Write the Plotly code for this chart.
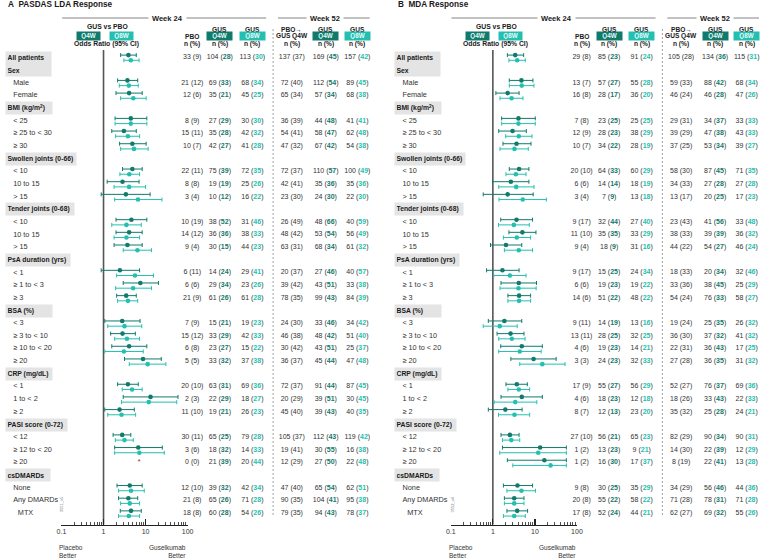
import plotly.graph_objects as go

# ---------------- DATA ----------------
row_labels = ["All patients", "Sex", "Male", "Female", "BMI (kg/m<sup>2</sup>)", "< 25", "≥ 25 to < 30", "≥ 30",
              "Swollen joints (0-66)", "< 10", "10 to 15", "> 15", "Tender joints (0-68)", "< 10", "10 to 15", "> 15",
              "PsA duration (yrs)", "< 1", "≥ 1 to < 3", "≥ 3", "BSA (%)", "< 3", "≥ 3 to < 10", "≥ 10 to < 20", "≥ 20",
              "CRP (mg/dL)", "< 1", "1 to < 2", "≥ 2", "PASI score (0-72)", "< 12", "≥ 12 to < 20", "≥ 20",
              "csDMARDs", "None", "Any DMARDs", "MTX"]
row_kinds = ["all", "group", "sub", "sub", "group", "sub", "sub", "sub",
             "group", "sub", "sub", "sub", "group", "sub", "sub", "sub",
             "group", "sub", "sub", "sub", "group", "sub", "sub", "sub", "sub",
             "group", "sub", "sub", "sub", "group", "sub", "sub", "sub",
             "group", "sub", "sub", "subsub"]

# Panel A: PASDAS LDA – odds ratios (95% CI)
a_q4w_or = [3.9, 3.7, 4.06, 4.45, 3.05, 4.85, 4.85, 2.83, 3.4, 4.6, 4.06, 3.7, 2.45, 7.5, 3.46, 2.78, 2.83, 4.06, 8.7,
            3.8, 13.1, 2.41, 2.78, 6.7, None, 4.2, 3.9, 4.5]
a_q4w_lo = [2.55, 2.16, 1.98, 1.88, 1.57, 2.41, 2.83, 1.22, 0.88, 1.98, 1.98, 1.78, 0.88, 2.94, 2.05, 1.07, 1.48, 1.57,
            3.15, 2.16, 2.94, 1.07, 1.69, 1.84, None, 2.09, 2.28, 2.5]
a_q4w_hi = [6.0, 6.5, 8.3, 10.7, 6.0, 10.3, 8.3, 7.0, 12.8, 10.7, 8.3, 8.3, 7.2, 20.2, 6.0, 7.4, 5.7, 10.7, 23.6,
            6.7, 59, 5.4, 4.45, 25, None, 8.3, 6.5, 7.9]
a_q8w_or = [4.45, 4.0, 5.1, 4.45, 3.8, 5.3, 4.1, 4.06, 6.6, 3.5, 3.5, 6.4, 5.6, 5.05, 3.8, 3.15, 3.6, 3.05, 11.2,
            4.77, 11.9, 2.68, 3.15, 7.1, None, 4.5, 4.2, 4.0]
a_q8w_lo = [3.05, 2.37, 2.55, 1.88, 1.94, 2.55, 2.45, 1.78, 1.84, 1.57, 1.78, 2.94, 2.05, 1.94, 2.16, 1.26, 1.84, 1.07,
            4.1, 2.78, 2.68, 1.26, 1.91, 1.84, None, 2.28, 2.55, 2.28]
a_q8w_hi = [7.0, 6.7, 10.3, 10.7, 7.2, 11.5, 7.2, 10.0, 24.5, 7.9, 7.2, 13.8, 15.4, 13.8, 6.5, 8.1, 7.2, 8.8, 30.4,
            8.3, 55, 5.8, 5.1, 27.8, None, 9.3, 7.2, 7.2]
a_missing_or = [None] * 24 + [7.0] + [None] * 3   # "*" placeholder: not estimable

# Panel A: n (%)
a_pbo24 = [(33, 9), (21, 12), (12, 6), (8, 9), (15, 11), (10, 7), (22, 11), (8, 8), (3, 4), (10, 19), (14, 12), (9, 4),
           (6, 11), (6, 6), (21, 9), (7, 9), (15, 12), (6, 8), (5, 5), (20, 10), (2, 3), (11, 10), (30, 11), (3, 6),
           (0, 0), (12, 10), (21, 8), (18, 8)]
a_q4w24 = [(104, 28), (69, 33), (35, 21), (27, 29), (35, 28), (42, 27), (75, 39), (19, 19), (10, 12), (38, 52),
           (36, 36), (30, 15), (14, 24), (29, 34), (61, 26), (15, 21), (33, 29), (23, 27), (33, 32), (63, 31),
           (22, 29), (19, 21), (65, 25), (18, 32), (21, 39), (39, 32), (65, 26), (60, 28)]
a_q8w24 = [(113, 30), (68, 34), (45, 25), (30, 30), (42, 32), (41, 28), (72, 35), (25, 26), (16, 22), (31, 46),
           (38, 33), (44, 23), (29, 41), (23, 26), (61, 28), (19, 23), (42, 33), (15, 22), (37, 38), (69, 36),
           (18, 27), (26, 23), (79, 28), (14, 33), (20, 44), (42, 34), (71, 28), (54, 26)]
a_pbo52 = [(137, 37), (72, 40), (65, 34), (36, 39), (54, 41), (47, 32), (72, 37), (42, 41), (23, 30), (26, 49),
           (48, 42), (63, 31), (20, 37), (39, 42), (78, 35), (24, 30), (46, 38), (30, 42), (36, 37), (72, 37),
           (20, 29), (45, 40), (105, 37), (19, 41), (12, 29), (47, 40), (90, 35), (79, 35)]
a_q4w52 = [(169, 45), (112, 54), (57, 34), (44, 48), (58, 47), (67, 42), (110, 57), (35, 36), (24, 30), (48, 66),
           (53, 54), (68, 34), (27, 46), (43, 51), (99, 43), (33, 46), (48, 42), (43, 51), (45, 44), (91, 44),
           (39, 51), (39, 43), (112, 43), (30, 55), (27, 50), (65, 54), (104, 41), (94, 43)]
a_q8w52 = [(157, 42), (89, 45), (68, 38), (41, 41), (62, 48), (54, 38), (100, 49), (35, 36), (22, 30), (40, 59),
           (56, 49), (61, 32), (40, 57), (33, 38), (84, 39), (34, 42), (51, 40), (25, 37), (47, 48), (87, 45),
           (30, 45), (40, 35), (119, 42), (16, 38), (22, 48), (62, 51), (95, 38), (78, 37)]

# Panel B: MDA – odds ratios (95% CI)
b_q4w_or = [3.4, 4.78, 2.25, 4.06, 2.94, 3.65, 4.2, 2.68, 2.25, 3.65, 5.04, 2.05, 1.69, 4.14, 4.2, 1.88, 2.64, 4.87,
            9.3, 3.71, 4.87, 1.98, 2.54, 13.3, 16.8, 3.85, 3.22, 3.79]
b_q4w_lo = [2.21, 2.46, 1.18, 1.62, 1.38, 1.74, 2.46, 0.98, 0.59, 1.54, 2.41, 0.88, 0.71, 1.56, 2.28, 0.78, 1.26, 1.54,
            2.68, 2.05, 1.56, 0.78, 1.56, 1.69, 2.21, 1.78, 1.88, 2.16]
b_q4w_hi = [5.4, 8.97, 4.2, 10.2, 6.25, 8.07, 7.2, 7.2, 9.1, 8.8, 10.6, 4.87, 4.2, 10.9, 7.9, 4.87, 5.5, 15, 32,
            6.6, 15, 4.96, 4.2, 56, 56, 8.8, 5.5, 6.7]
b_q8w_or = [3.79, 4.87, 2.79, 4.06, 4.14, 3.27, 3.52, 3.59, 5.13, 3.16, 3.71, 4.14, 2.54, 4.06, 4.2, 1.46, 2.83, 4.36,
            15, 4.14, 3.4, 3.27, 2.74, 12, 23.6, 4.78, 3.22, 3.22]
b_q8w_lo = [2.41, 2.46, 1.48, 1.62, 2.02, 1.48, 2.05, 1.38, 1.4, 1.36, 1.78, 1.88, 1.05, 1.48, 2.28, 0.59, 1.38, 1.38,
            4.36, 2.28, 1.07, 1.36, 1.69, 1.46, 2.98, 2.16, 1.88, 1.78]
b_q8w_hi = [5.9, 9.5, 5.2, 10.2, 8.5, 6.96, 6.15, 9.5, 18.7, 7.36, 7.9, 8.8, 6.15, 10.7, 7.9, 3.79, 5.83, 14.1, 52,
            7.5, 11.1, 7.5, 4.36, 56, 56, 10.3, 5.5, 5.9]

# Panel B: n (%)
b_pbo24 = [(29, 8), (13, 7), (16, 8), (7, 8), (12, 9), (10, 7), (20, 10), (6, 6), (3, 4), (9, 17), (11, 10), (9, 4),
           (9, 17), (6, 6), (14, 6), (9, 11), (13, 11), (4, 6), (3, 3), (17, 9), (4, 6), (8, 7), (27, 10), (1, 2),
           (1, 2), (9, 8), (20, 8), (17, 8)]
b_q4w24 = [(85, 23), (57, 27), (28, 17), (23, 25), (28, 23), (34, 22), (64, 33), (14, 14), (7, 9), (32, 44),
           (35, 35), (18, 9), (15, 25), (19, 23), (51, 22), (14, 19), (28, 25), (19, 23), (24, 23), (55, 27),
           (18, 23), (12, 13), (56, 21), (13, 23), (16, 30), (30, 25), (55, 22), (52, 24)]
b_q8w24 = [(91, 24), (55, 28), (36, 20), (25, 25), (38, 29), (28, 19), (60, 29), (18, 19), (13, 18), (27, 40),
           (33, 29), (31, 16), (24, 34), (19, 22), (48, 22), (13, 16), (32, 25), (14, 21), (32, 33), (56, 29),
           (12, 18), (23, 20), (65, 23), (9, 21), (17, 37), (35, 29), (58, 22), (44, 21)]
b_pbo52 = [(105, 28), (59, 33), (46, 24), (29, 31), (39, 29), (37, 25), (58, 30), (34, 33), (13, 17), (23, 43),
           (38, 33), (44, 22), (18, 33), (33, 36), (54, 24), (19, 24), (36, 30), (22, 31), (27, 28), (52, 27),
           (18, 26), (35, 32), (82, 29), (14, 30), (8, 19), (34, 29), (71, 28), (62, 27)]
b_q4w52 = [(134, 36), (88, 42), (46, 28), (34, 37), (47, 38), (53, 34), (87, 45), (27, 28), (20, 25), (41, 56),
           (39, 39), (54, 27), (20, 34), (38, 45), (76, 33), (25, 35), (37, 32), (36, 43), (36, 35), (76, 37),
           (33, 43), (25, 28), (90, 34), (22, 39), (22, 41), (56, 46), (78, 31), (69, 32)]
b_q8w52 = [(115, 31), (68, 34), (47, 26), (33, 33), (43, 33), (39, 27), (71, 35), (27, 28), (17, 23), (33, 48),
           (36, 32), (46, 24), (32, 46), (25, 29), (58, 27), (26, 32), (41, 32), (17, 25), (31, 32), (69, 36),
           (22, 33), (24, 21), (90, 31), (12, 29), (13, 28), (44, 36), (71, 28), (55, 26)]

axis_tickvals = [0.1, 1, 10, 100]
axis_ticktext = ["0.1", "1", "10", "100"]
minor_tickvals = [m * d for d in (0.1, 1, 10) for m in range(2, 10)]

# ---------------- STYLE / LAYOUT ----------------
W, H = 766, 558
FONT = "Arial, Liberation Sans, sans-serif"
C4 = "#107a6c"
C8 = "#24bfb0"
TXT = "#333333"
DARK = "#1a1a1a"
PITCH = 12.66
Y0 = 57.5
PANEL_DX = 395
COLS_X = [190, 218, 251, 291, 325.5, 357.5]
BOX_W = {"All patients": 45, "Sex": 45, "BMI (kg/m<sup>2</sup>)": 46, "Swollen joints (0-66)": 70,
         "Tender joints (0-68)": 68, "PsA duration (yrs)": 64, "BSA (%)": 46, "CRP (mg/dL)": 46,
         "PASI score (0-72)": 61, "csDMARDs": 44}

slot_y = [Y0 + PITCH * i for i in range(len(row_labels))]
data_idx = [i for i, k in enumerate(row_kinds) if k != "group"]
data_y = [slot_y[i] for i in data_idx]

fig = go.Figure()
annotations = []
shapes = []


def fmt_cells(cells, color):
    out = []
    for n, p in cells:
        if color is None:
            out.append(f"{n} ({p})")
        else:
            out.append(f"{n} (<b><span style='color:{color}'>{p}</span></b>)")
    return out


def build_panel(dx, xa, title, forest, tables, missing=None, code=""):
    # title
    annotations.append(dict(x=dx + 1.5, y=4.5, xref="x", yref="y", xanchor="left", yanchor="middle", showarrow=False,
                            text=f"<b>{title}</b>", font=dict(size=8.2, color=DARK, family=FONT)))
    # week headers
    for (x0, x1, xc, lab) in [(58, 265, 165, "Week 24"), (277, 370, 325, "Week 52")]:
        shapes.append(dict(type="line", xref="x", yref="y", x0=dx + x0, x1=dx + x1, y0=18, y1=18,
                           line=dict(color="#666666", width=0.8)))
        annotations.append(dict(x=dx + xc, y=18, xref="x", yref="y", showarrow=False, text=f"<b>{lab}</b>",
                                bgcolor="white", borderpad=3, font=dict(size=7.5, color=DARK, family=FONT)))
    # dashed separator
    shapes.append(dict(type="line", xref="x", yref="y", x0=dx + 272, x1=dx + 272, y0=29, y1=517,
                       line=dict(color="#8a8a8a", width=0.8, dash="2px,2px")))
    # forest header
    annotations.append(dict(x=dx + 104, y=26.5, xref="x", yref="y", showarrow=False, text="<b>GUS vs PBO</b>",
                            font=dict(size=6.8, color=DARK, family=FONT)))
    for xc, lab, col in [(84.5, "Q4W", C4), (118, "Q8W", C8)]:
        annotations.append(dict(x=dx + xc, y=36, xref="x", yref="y", showarrow=False, text=f"<b>{lab}</b>",
                                bgcolor=col, width=22, height=6.5, borderpad=0.5,
                                font=dict(size=6.3, color="#e8fbf8", family=FONT)))
    annotations.append(dict(x=dx + 103, y=44, xref="x", yref="y", showarrow=False, text="<b>Odds Ratio (95% CI)</b>",
                            font=dict(size=6.8, color=DARK, family=FONT)))
    # table headers
    heads = [("", None, "PBO"), ("GUS", C4, "Q4W"), ("GUS", C8, "Q8W"),
             ("PBO→", None, "GUS Q4W"), ("GUS", C4, "Q4W"), ("GUS", C8, "Q8W")]
    for cx, (top, col, mid) in zip(COLS_X, heads):
        if top:
            annotations.append(dict(x=dx + cx, y=29, xref="x", yref="y", showarrow=False, text=f"<b>{top}</b>",
                                    font=dict(size=6.6, color=DARK, family=FONT)))
        if col:
            annotations.append(dict(x=dx + cx, y=36, xref="x", yref="y", showarrow=False, text=f"<b>{mid}</b>",
                                    bgcolor=col, width=24, height=6.5, borderpad=0.5,
                                    font=dict(size=6.3, color="#e8fbf8", family=FONT)))
        else:
            annotations.append(dict(x=dx + cx, y=36, xref="x", yref="y", showarrow=False, text=f"<b>{mid}</b>",
                                    font=dict(size=6.6, color=DARK, family=FONT)))
        annotations.append(dict(x=dx + cx, y=43.5, xref="x", yref="y", showarrow=False, text="<b>n (%)</b>",
                                font=dict(size=6.6, color=DARK, family=FONT)))
    # row labels
    for lab, kind, y in zip(row_labels, row_kinds, slot_y):
        if kind in ("all", "group"):
            annotations.append(dict(x=dx + 0, y=y, xref="x", yref="y", xanchor="left", yanchor="middle",
                                    showarrow=False, text=f"<b>{lab}</b>", align="left", bgcolor="#e4e4e4",
                                    width=BOX_W[lab] - 3, height=9, borderpad=1.5,
                                    font=dict(size=6.8, color=DARK, family=FONT)))
    sub_x = [dx + (13 if k == "subsub" else 8.3) for k in row_kinds if k in ("sub", "subsub")]
    sub_y = [y for k, y in zip(row_kinds, slot_y) if k in ("sub", "subsub")]
    sub_t = [l for k, l in zip(row_kinds, row_labels) if k in ("sub", "subsub")]
    fig.add_trace(go.Scatter(x=sub_x, y=sub_y, text=sub_t, mode="text", textposition="middle right",
                             textfont=dict(size=7.3, color=TXT, family=FONT), xaxis="x", yaxis="y",
                             hoverinfo="skip", cliponaxis=False))
    # table values
    colors = [None, C4, C8, None, C4, C8]
    for cx, cells, col in zip(COLS_X, tables, colors):
        fig.add_trace(go.Scatter(x=[dx + cx] * len(cells), y=data_y, text=fmt_cells(cells, col), mode="text",
                                 textposition="middle center", textfont=dict(size=7.0, color=TXT, family=FONT),
                                 xaxis="x", yaxis="y", hoverinfo="skip", cliponaxis=False))
    # forest: reference line at OR = 1
    fig.add_trace(go.Scatter(x=[1, 1], y=[50, 524.5], mode="lines", line=dict(color="#555555", width=1.6),
                             xaxis=xa, yaxis="y", hoverinfo="skip"))
    for (orv, lo, hi), col, off in zip(forest, (C4, C8), (-2.4, 2.8)):
        plus = [None if v is None else h - v for v, h in zip(orv, hi)]
        minus = [None if v is None else v - l for v, l in zip(orv, lo)]
        fig.add_trace(go.Scatter(x=orv, y=[y + off for y in data_y], mode="markers",
                                 marker=dict(size=4.6, color=col),
                                 error_x=dict(type="data", symmetric=False, array=plus, arrayminus=minus,
                                              color=col, thickness=1, width=2),
                                 xaxis=xa, yaxis="y", hoverinfo="skip", cliponaxis=False))
    if missing is not None:
        fig.add_trace(go.Scatter(x=missing, y=data_y, mode="text", text=["*" if m else "" for m in missing],
                                 textposition="middle center", textfont=dict(size=7, color="#7a1f1f", family=FONT),
                                 xaxis=xa, yaxis="y", hoverinfo="skip", cliponaxis=False))
    # axis captions
    annotations.append(dict(x=dx + 53, y=551, xref="x", yref="y", xanchor="left", yanchor="middle", showarrow=False,
                            text="Placebo<br>Better", align="left", font=dict(size=6.5, color=TXT, family=FONT)))
    annotations.append(dict(x=dx + 186, y=551, xref="x", yref="y", xanchor="right", yanchor="middle",
                            showarrow=False, text="Guselkumab<br>Better", align="right",
                            font=dict(size=6.5, color=TXT, family=FONT)))
    annotations.append(dict(x=dx + 57 + (0 if dx == 0 else 2), y=504, xref="x", yref="y", showarrow=False,
                            text=code, textangle=-90, font=dict(size=4, color="#777777", family=FONT)))


build_panel(0, "x2", "A\u00a0\u00a0PASDAS LDA Response",
            [(a_q4w_or, a_q4w_lo, a_q4w_hi), (a_q8w_or, a_q8w_lo, a_q8w_hi)],
            [a_pbo24, a_q4w24, a_q8w24, a_pbo52, a_q4w52, a_q8w52], missing=a_missing_or, code="3551_v5")
build_panel(PANEL_DX, "x3", "B\u00a0\u00a0MDA Response",
            [(b_q4w_or, b_q4w_lo, b_q4w_hi), (b_q8w_or, b_q8w_lo, b_q8w_hi)],
            [b_pbo24, b_q4w24, b_q8w24, b_pbo52, b_q4w52, b_q8w52], code="3552_v4")


def log_axis(x0, x1):
    return dict(type="log", range=[-1, 2], domain=[x0 / W, x1 / W], anchor="free", position=1 - 524.5 / H,
                showline=True, linecolor="#222222", linewidth=1.3, ticks="inside", ticklen=6, tickwidth=1.2,
                tickcolor="#222222", tickvals=axis_tickvals, ticktext=axis_ticktext,
                tickfont=dict(size=7, color=TXT, family=FONT), showgrid=False, zeroline=False, fixedrange=True,
                minor=dict(tickvals=minor_tickvals, ticks="inside", ticklen=3, tickwidth=0.8, tickcolor="#222222",
                           showgrid=False))


fig.update_layout(
    width=W, height=H, margin=dict(l=0, r=0, t=0, b=0), paper_bgcolor="white", plot_bgcolor="rgba(0,0,0,0)",
    showlegend=False, font=dict(family=FONT, color=TXT), hovermode=False,
    xaxis=dict(range=[0, W], domain=[0, 1], visible=False, fixedrange=True),
    yaxis=dict(range=[H, 0], domain=[0, 1], visible=False, fixedrange=True),
    xaxis2=log_axis(57.3, 185.3),
    xaxis3=log_axis(57.3 + PANEL_DX, 185.3 + PANEL_DX),
    annotations=annotations, shapes=shapes,
)

fig.write_html("out.html", config={"displayModeBar": False, "staticPlot": True},
               post_script="document.body.style.margin='0px';document.body.style.overflow='hidden';")
